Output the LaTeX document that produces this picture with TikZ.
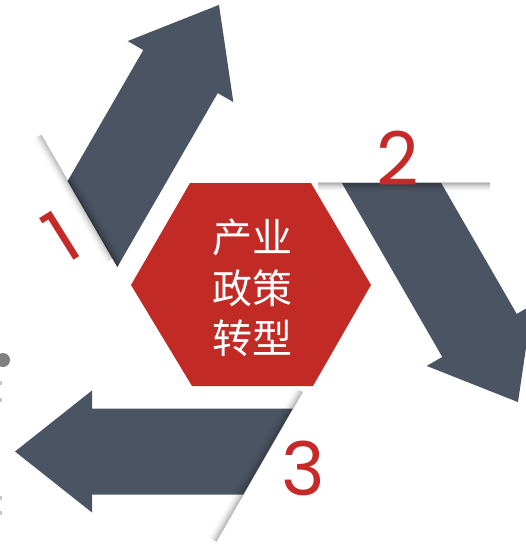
\documentclass[tikz,border=0pt]{standalone}
\usepackage{fontspec}
\newfontfamily\cjk{Noto Sans CJK SC}
\newfontfamily\numfont{Poppins}
\definecolor{arrowgray}{HTML}{4A5462}
\definecolor{hexred}{HTML}{C22A26}
\definecolor{numred}{HTML}{C62A28}
\definecolor{dotgray}{HTML}{808080}
\tikzset{
  bigarrow/.style={fill=arrowgray},
  numlabel/.style={text=numred, font=\numfont\fontsize{74}{74}\selectfont, inner sep=0pt},
  shadowline/.style={line width=1.1pt, black}
}
\newcommand\arrowshape{(-24.8,43) -- (176,43) -- (176,61) -- (253,0) -- (176,-61) -- (176,-43) -- (24.8,-43) -- cycle}
\begin{document}
\begin{tikzpicture}[x=1pt,y=-1pt]
\useasboundingbox (0,0) rectangle (526,547);
\clip (0,0) rectangle (526,547);

% arrow 2 (down-right)
\begin{scope}[shift={(391.5,183)}, rotate=-60]
  \fill[bigarrow] \arrowshape;
  \foreach \i [evaluate=\i as \op using {0.28*(1-\i/10)^2}] in {0,...,9}
    \draw[shadowline, opacity=\op, shift={(0.866*\i,0.5*\i)}] (-36.75,63.65) -- (49.25,-85.3);
\end{scope}

% arrow 1 (up-right)
\begin{scope}[shift={(92.5,224)}, rotate=60]
  \fill[bigarrow] \arrowshape;
  \foreach \i [evaluate=\i as \op using {0.22*(1-\i/10)^2}] in {0,...,9}
    \draw[shadowline, opacity=\op, shift={(-0.866*\i,-0.5*\i)}] (-20,34.64) -- (51.5,-89.2);
  \begin{scope}
    \clip \arrowshape;
    \foreach \i [evaluate=\i as \op using {0.3*(1-\i/10)^2}] in {0,...,9}
      \draw[shadowline, opacity=\op, shift={(0.866*\i,0.5*\i)}] (-30,52) -- (30,-52);
  \end{scope}
\end{scope}

% arrow 3 (left)
\begin{scope}[shift={(268,451.5)}, rotate=180]
  \fill[bigarrow] \arrowshape;
  \foreach \i [evaluate=\i as \op using {0.24*(1-\i/10)^2}] in {0,...,9}
    \draw[shadowline, opacity=\op, shift={(0.866*\i,0.5*\i)}] (-34.5,59.75) -- (52,-90.06);
\end{scope}

% central hexagon
\fill[hexred] (190,183) -- (311,183) -- (371,285) -- (313,386) -- (192,386) -- (131,285) -- cycle;
\coordinate (hexcenter) at (251,285);
\node[font=\cjk\fontsize{40}{50.5}\selectfont, text=white, align=center, inner sep=0pt] (title) at (252,288) {产业\\政策\\转型};

% numbers
\node[numlabel, anchor=base] (n2) at (398,185) {2};
\node[numlabel, anchor=base] (n3) at (303,495) {3};
\node[numlabel, anchor=base, rotate=32] (n1) at (76,259) {1};

% gray dot and edge marks
\fill[dotgray] (3,360) circle (7);
\fill[gray!45] (0,381) rectangle (1.5,385);
\fill[gray!45] (0,398) rectangle (1.5,402);
\fill[gray!45] (0,496) rectangle (1.5,500);
\fill[gray!45] (0,511) rectangle (1.5,515);
\end{tikzpicture}
\end{document}
